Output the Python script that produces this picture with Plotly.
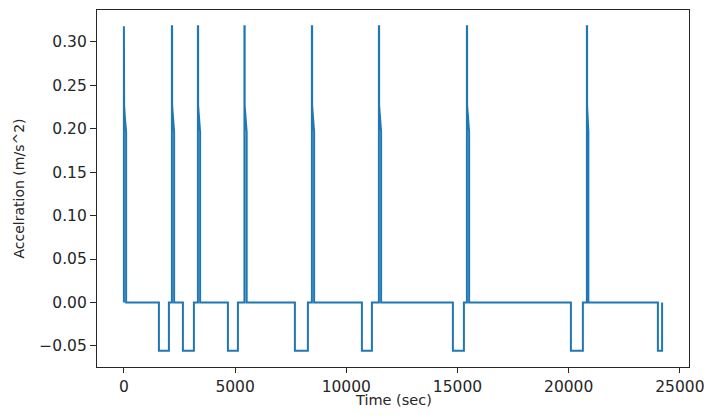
import plotly.graph_objects as go

# Time (sec) and acceleration (m/s^2), one cycle per line
time_sec = [
    0, 0, 10, 10, 40, 70, 100, 100,
    1574, 1574, 2023, 2023,
    2158, 2158, 2168, 2168, 2198, 2228, 2258, 2258,
    2653, 2653, 3147, 3147,
    3327, 3327, 3337, 3337, 3367, 3397, 3427, 3427,
    4676, 4676, 5126, 5126,
    5420, 5420, 5430, 5430, 5460, 5490, 5520, 5520,
    7689, 7689, 8273, 8273,
    8453, 8453, 8463, 8463, 8493, 8523, 8553, 8553,
    10701, 10701, 11151, 11151,
    11466, 11466, 11476, 11476, 11506, 11536, 11566, 11566,
    14793, 14793, 15288, 15288,
    15423, 15423, 15433, 15433, 15463, 15493, 15523, 15523,
    20099, 20099, 20638, 20638,
    20818, 20818, 20828, 20828, 20850, 20870, 20885, 20885,
    24011, 24011, 24200, 24200,
]
accel = [
    0.0, 0.318, 0.318, 0.227, 0.214, 0.203, 0.196, 0.0,
    0.0, -0.0556, -0.0556, 0.0,
    0.0, 0.318, 0.318, 0.227, 0.214, 0.203, 0.196, 0.0,
    0.0, -0.0556, -0.0556, 0.0,
    0.0, 0.318, 0.318, 0.227, 0.214, 0.203, 0.196, 0.0,
    0.0, -0.0556, -0.0556, 0.0,
    0.0, 0.318, 0.318, 0.227, 0.214, 0.203, 0.196, 0.0,
    0.0, -0.0556, -0.0556, 0.0,
    0.0, 0.318, 0.318, 0.227, 0.214, 0.203, 0.196, 0.0,
    0.0, -0.0556, -0.0556, 0.0,
    0.0, 0.318, 0.318, 0.227, 0.214, 0.203, 0.196, 0.0,
    0.0, -0.0556, -0.0556, 0.0,
    0.0, 0.318, 0.318, 0.227, 0.214, 0.203, 0.196, 0.0,
    0.0, -0.0556, -0.0556, 0.0,
    0.0, 0.318, 0.318, 0.227, 0.214, 0.203, 0.196, 0.0,
    0.0, -0.0556, -0.0556, 0.0,
]

x_ticks = [0, 5000, 10000, 15000, 20000, 25000]
y_ticks = [-0.05, 0.00, 0.05, 0.10, 0.15, 0.20, 0.25, 0.30]
x_title = "Time (sec)"
y_title = "Accelration (m/s^2)"

fig = go.Figure()
fig.add_trace(go.Scatter(
    x=time_sec, y=accel, mode="lines",
    line=dict(color="#1f77b4", width=2),
    showlegend=False, hoverinfo="skip",
))

axis_common = dict(
    showgrid=False, zeroline=False, showline=True, mirror=True,
    linecolor="#262626", linewidth=1.2, ticks="outside",
    tickcolor="#262626", tickwidth=1.2,
    tickfont=dict(family="DejaVu Sans", size=15.5, color="#262626"),
    automargin=False,
)

fig.update_xaxes(range=[-1210, 25410], tickvals=x_ticks, tickformat="d", ticklen=5, **axis_common)
fig.update_yaxes(range=[-0.0743, 0.3367], tickvals=y_ticks, tickformat=".2f", ticklen=6, **axis_common)

title_font = dict(family="DejaVu Sans", size=14.5, color="#262626")
fig.add_annotation(text=x_title, xref="paper", yref="paper", x=0.5, y=-0.0924,
                   xanchor="center", yanchor="middle", showarrow=False, font=title_font)
fig.add_annotation(text=y_title, xref="paper", yref="paper", x=-0.1318, y=0.5,
                   textangle=-90, xanchor="center", yanchor="middle", showarrow=False,
                   font=dict(family="DejaVu Sans", size=14, color="#262626"))

# page body has an 8px default margin, so the figure sits at (8, 8)
fig.update_layout(
    width=716, height=418,
    margin=dict(l=89, r=35, t=2, b=59),
    plot_bgcolor="white", paper_bgcolor="white",
)

fig.write_html("out.html")
